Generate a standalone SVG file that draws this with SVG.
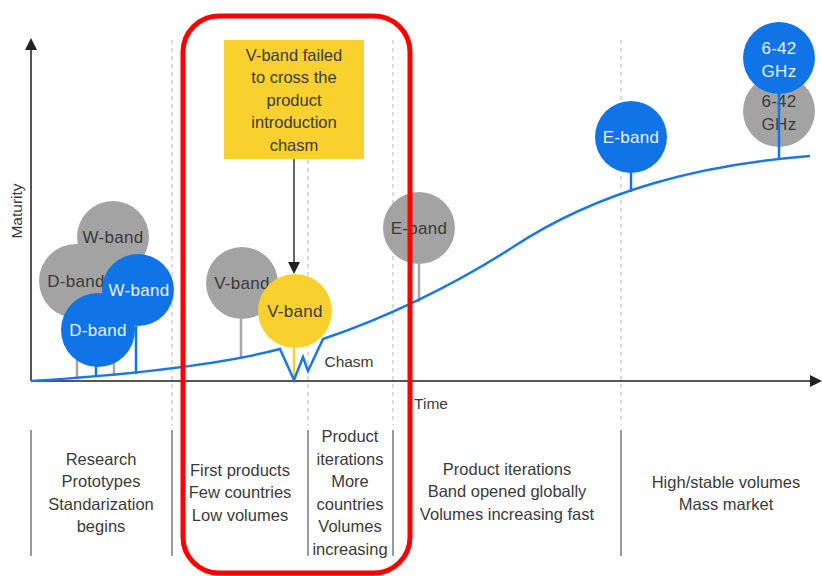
<svg xmlns="http://www.w3.org/2000/svg" width="822" height="576" viewBox="0 0 822 576">
<style>
text{font-family:"Liberation Sans",Arial,sans-serif;font-size:16.5px;fill:#3a3a3a;text-anchor:middle}
.ct{font-size:17px;letter-spacing:0.3px}
.w{fill:#e9f1ff}
.dash{stroke:#cfcfcf;stroke-width:1.5;stroke-dasharray:4 4;fill:none}
.sep{stroke:#9a9a9a;stroke-width:2;fill:none}
.gs{stroke:#a6a6a6;stroke-width:2.5}
.bs{stroke:#1174e6;stroke-width:2.5}
.g{fill:#a3a3a3}
.b{fill:#1174e6}
.y{fill:#f8d12e}
</style>
<g id="grid">
<line class="dash" x1="172" y1="40" x2="172" y2="425"/>
<line class="dash" x1="308" y1="40" x2="308" y2="425"/>
<line class="dash" x1="393" y1="40" x2="393" y2="425"/>
<line class="dash" x1="621" y1="40" x2="621" y2="425"/>
<line class="sep" x1="31" y1="430" x2="31" y2="556"/>
<line class="sep" x1="172" y1="430" x2="172" y2="556"/>
<line class="sep" x1="308" y1="430" x2="308" y2="556"/>
<line class="sep" x1="393" y1="430" x2="393" y2="556"/>
<line class="sep" x1="621" y1="430" x2="621" y2="556"/>
</g>
<g id="axes">
<line x1="31" y1="381" x2="31" y2="48" stroke="#555" stroke-width="2"/>
<path d="M25,50 L31,38 L37,50 z" fill="#222"/>
<line x1="31" y1="381" x2="812" y2="381" stroke="#555" stroke-width="2"/>
<path d="M810,375 L822,381 L810,387 z" fill="#222"/>
<text x="17" y="211" transform="rotate(-90 17 211)" style="font-size:15.5px" dy="5">Maturity</text>
<text x="431" y="409" style="font-size:15.5px">Time</text>
</g>
<g id="connectors">
<line class="gs" x1="77" y1="317" x2="77" y2="379"/>
<line class="bs" x1="96" y1="360" x2="96" y2="377"/>
<line class="gs" x1="114" y1="273" x2="114" y2="376"/>
<line class="bs" x1="136" y1="326" x2="136" y2="374"/>
<line class="gs" x1="241" y1="319" x2="241" y2="357"/>
<line stroke="#f8d12e" stroke-width="2.5" x1="294" y1="347" x2="294" y2="380"/>
<line class="gs" x1="419" y1="264" x2="419" y2="302"/>
<line class="bs" x1="631" y1="172" x2="631" y2="192"/>
<line x1="294" y1="159" x2="294" y2="263" stroke="#333" stroke-width="1.5"/>
<path d="M288,262 L294,274 L300,262 z" fill="#222"/>
</g>
<g id="curve">
<path d="M31,381 Q200,370 280,349 L294,380 L303,357 L308,371 L323,339 C383,319 453,286 513,247 C600,190 700,165 810,156" fill="none" stroke="#1a78e6" stroke-width="2.5" stroke-linejoin="miter"/>
</g>
<g id="d-band-old"><circle class="g" cx="76" cy="281" r="37"/><text class="ct" x="76" y="287">D-band</text></g>
<g id="w-band-old"><circle class="g" cx="113" cy="237" r="36"/><text class="ct" x="113" y="243">W-band</text></g>
<g id="w-band-new"><circle class="b" cx="138" cy="290" r="36"/><text class="ct w" x="139" y="296">W-band</text></g>
<g id="d-band-new"><circle class="b" cx="98" cy="330" r="37"/><text class="ct w" x="98" y="336">D-band</text></g>
<g id="v-band-old"><circle class="g" cx="242" cy="283" r="36"/><text class="ct" x="242" y="289">V-band</text></g>
<g id="v-band-new"><circle class="y" cx="295" cy="311" r="37"/><text class="ct" x="295" y="317">V-band</text></g>
<g id="e-band-old"><circle class="g" cx="419" cy="228" r="36"/><text class="ct" x="419" y="234">E-band</text></g>
<g id="e-band-new"><circle class="b" cx="631" cy="137" r="36"/><text class="ct w" x="631" y="143">E-band</text></g>
<g id="ghz-old"><circle class="g" cx="779" cy="111" r="36"/><text class="ct" x="779" y="107">6-42</text><text class="ct" x="779" y="130">GHz</text></g>
<line class="bs" x1="779" y1="92" x2="779" y2="158"/>
<g id="ghz-new"><circle class="b" cx="779" cy="58" r="36"/><text class="ct w" x="779" y="54">6-42</text><text class="ct w" x="779" y="77">GHz</text></g>
<g id="callout">
<rect x="224" y="40" width="140" height="119" fill="#f8d12e"/>
<text x="294" y="61">V-band failed</text>
<text x="294" y="83">to cross the</text>
<text x="294" y="106">product</text>
<text x="294" y="128">introduction</text>
<text x="294" y="151">chasm</text>
</g>
<text x="349" y="367" style="font-size:15.5px">Chasm</text>
<g id="phases">
<text x="101" y="465">Research</text>
<text x="101" y="487">Prototypes</text>
<text x="101" y="510">Standarization</text>
<text x="101" y="532">begins</text>
<text x="240" y="476">First products</text>
<text x="240" y="498">Few countries</text>
<text x="240" y="521">Low volumes</text>
<text x="350" y="442">Product</text>
<text x="350" y="465">iterations</text>
<text x="350" y="487">More</text>
<text x="350" y="510">countries</text>
<text x="350" y="532">Volumes</text>
<text x="350" y="555">increasing</text>
<text x="507" y="475">Product iterations</text>
<text x="507" y="497">Band opened globally</text>
<text x="507" y="520">Volumes increasing fast</text>
<text x="726" y="488">High/stable volumes</text>
<text x="726" y="510">Mass market</text>
</g>
<rect id="highlight" x="183" y="16" width="227" height="557" rx="36" ry="36" fill="none" stroke="#ff0000" stroke-width="5"/>
</svg>
